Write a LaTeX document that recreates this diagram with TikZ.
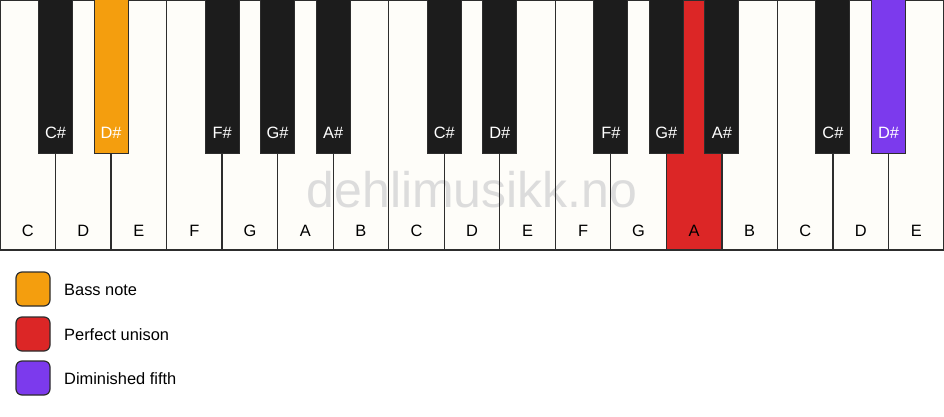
\documentclass[tikz,border=0pt]{standalone}
\usepackage{fontspec}
\setmainfont{Liberation Sans}
\definecolor{keywhite}{RGB}{254,253,249}
\definecolor{keyblack}{RGB}{28,28,28}
\definecolor{keyline}{RGB}{45,45,45}
\definecolor{bassorange}{RGB}{244,158,14}
\definecolor{unisonred}{RGB}{220,38,38}
\definecolor{fifthpurple}{RGB}{124,58,237}
\definecolor{wmark}{RGB}{220,220,220}
\begin{document}
\begin{tikzpicture}[x=1pt,y=-1pt,
  every node/.style={font=\fontsize{16.4}{19}\selectfont},
  whitekey/.style={anchor=north west, minimum width=55.5294pt, minimum height=250pt, inner sep=0pt, outer sep=0pt},
  blackkey/.style={anchor=north, minimum width=34pt, minimum height=153pt, inner sep=0pt, outer sep=0pt, draw=keyline, line width=1pt},
  keylab/.style={anchor=base, inner sep=0pt},
  legbox/.style={minimum size=34pt, inner sep=0pt, rounded corners=6pt, draw=keyline, line width=1.2pt},
  legtext/.style={anchor=base west, inner sep=0pt}]
\useasboundingbox (0,0) rectangle (944,417);
\fill[white] (0,0) rectangle (944,417);
\def\w{55.5294}
% white keys (fills)
\foreach \n [count=\i from 0] in {C,D,E,F,G,A,B,C,D,E,F,G,A,B,C,D,E}{
  \ifnum\i=12
    \node[whitekey, fill=unisonred] (wk\i) at (\i*\w,0) {};
  \else
    \node[whitekey, fill=keywhite] (wk\i) at (\i*\w,0) {};
  \fi
}
% watermark
\node[anchor=base, inner sep=0pt, text=wmark, font=\fontsize{50}{58}\selectfont] (wm) at (472,207) {dehlimusikk.no};
% white key borders and labels
\foreach \n [count=\i from 0] in {C,D,E,F,G,A,B,C,D,E,F,G,A,B,C,D,E}{
  \draw[keyline, line width=1.3pt] (wk\i.north west) rectangle (wk\i.south east);
  \node[keylab, text=black] (wl\i) at (\i*\w+\w/2,236) {\n};
}
% black keys
\foreach \b/\n/\c in {1/C/keyblack,2/D/bassorange,4/F/keyblack,5/G/keyblack,6/A/keyblack,8/C/keyblack,9/D/keyblack,11/F/keyblack,12/G/keyblack,13/A/keyblack,15/C/keyblack,16/D/fifthpurple}{
  \node[blackkey, fill=\c] (bk\b) at (\b*\w,0) {};
  \node[keylab, text=white] (bl\b) at (\b*\w,139) {\n\#};
}
% legend
\node[legbox, fill=bassorange] (lg1) at (33,289) {};
\node[legtext] (lt1) at (64,295.5) {Bass note};
\node[legbox, fill=unisonred] (lg2) at (33,334) {};
\node[legtext] (lt2) at (64,340) {Perfect unison};
\node[legbox, fill=fifthpurple] (lg3) at (33,378) {};
\node[legtext] (lt3) at (64,384) {Diminished fifth};
\end{tikzpicture}
\end{document}
